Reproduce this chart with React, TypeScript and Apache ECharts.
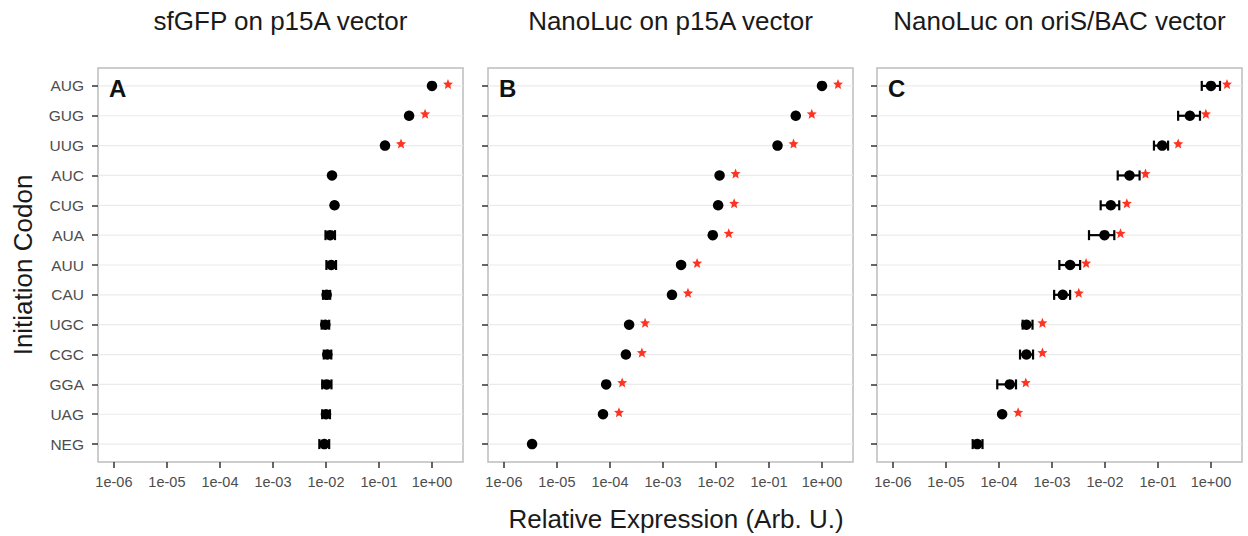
import React, { useEffect, useRef } from "react";
import * as echarts from "echarts";

// ---------- data ----------
const codons = ["AUG", "GUG", "UUG", "AUC", "CUG", "AUA", "AUU", "CAU", "UGC", "CGC", "GGA", "UAG", "NEG"];
const xTickExps = [-6, -5, -4, -3, -2, -1, 0];
const xTickLabels = ["1e-06", "1e-05", "1e-04", "1e-03", "1e-02", "1e-01", "1e+00"];

const panelTitles = ["sfGFP on p15A vector", "NanoLuc on p15A vector", "NanoLuc on oriS/BAC vector"];
const panelLetters = ["A", "B", "C"];

const sfgfpMean = [1.0, 0.37, 0.13, 0.013, 0.0145, 0.012, 0.0126, 0.0103, 0.0097, 0.0106, 0.0103, 0.01, 0.0093];
const sfgfpLow = [null, null, null, null, null, 0.0098, 0.0102, 0.0088, 0.0083, 0.0091, 0.0085, 0.0085, 0.0075];
const sfgfpHigh = [null, null, null, null, null, 0.0148, 0.0155, 0.012, 0.0115, 0.0126, 0.0127, 0.0119, 0.0115];
const sfgfpSig = [true, true, true, false, false, false, false, false, false, false, false, false, false];

const p15aMean = [1.0, 0.32, 0.145, 0.0117, 0.011, 0.0087, 0.0022, 0.00148, 0.00023, 0.0002, 0.000085, 0.000074, 0.0000034];
const p15aLow = [null, null, null, null, null, null, null, null, null, null, null, null, null];
const p15aHigh = [null, null, null, null, null, null, null, null, null, null, null, null, null];
const p15aSig = [true, true, true, true, true, true, true, true, true, true, true, true, false];

const bacMean = [1.0, 0.4, 0.12, 0.029, 0.0129, 0.0098, 0.0022, 0.0016, 0.00033, 0.00033, 0.00016, 0.000115, 0.000039];
const bacLow = [0.67, 0.24, 0.084, 0.0174, 0.0083, 0.005, 0.00138, 0.0011, 0.00028, 0.00025, 0.000093, null, 0.000032];
const bacHigh = [1.48, 0.62, 0.155, 0.045, 0.0186, 0.015, 0.0034, 0.0022, 0.00043, 0.00044, 0.00021, null, 0.000049];
const bacSig = [true, true, true, true, true, true, true, true, true, true, true, true, false];

// ---------- layout / style ----------
const FONT = "'Liberation Sans', Arial, Helvetica, sans-serif";
const GRID_LEFTS = [98, 488, 877];
const GRID_WIDTH = 365;
const GRID_TOP = 68;
const GRID_HEIGHT = 394;
const X_MIN = -6.3;
const X_MAX = 0.585;
const Y_MIN = -0.6;
const Y_MAX = 12.6;
const STAR_PATH =
  "path://M12,1.5 L14.9,8.6 L22.6,9.2 L16.7,14.2 L18.6,21.7 L12,17.6 L5.4,21.7 L7.3,14.2 L1.4,9.2 L9.1,8.6 Z";

const panelData = [
  { mean: sfgfpMean, lo: sfgfpLow, hi: sfgfpHigh, sig: sfgfpSig },
  { mean: p15aMean, lo: p15aLow, hi: p15aHigh, sig: p15aSig },
  { mean: bacMean, lo: bacLow, hi: bacHigh, sig: bacSig },
];

function buildOption() {
  const grids: any[] = [];
  const xAxes: any[] = [];
  const yAxes: any[] = [];
  const series: any[] = [];
  const graphics: any[] = [];
  const idx = codons.map((_, i) => i);

  panelData.forEach((p, k) => {
    grids.push({
      left: GRID_LEFTS[k],
      top: GRID_TOP,
      width: GRID_WIDTH,
      height: GRID_HEIGHT,
      show: true,
      borderColor: "#bdbdbd",
      borderWidth: 1.5,
      backgroundColor: "#ffffff",
    });
    xAxes.push({
      type: "value",
      gridIndex: k,
      position: "bottom",
      min: X_MIN,
      max: X_MAX,
      axisLine: { show: false, onZero: false },
      splitLine: { show: false },
      axisTick: { show: true, customValues: xTickExps, length: 6, lineStyle: { color: "#333", width: 1.5 } },
      axisLabel: {
        show: true,
        customValues: xTickExps,
        margin: 12,
        fontSize: 14.5,
        fontFamily: FONT,
        color: "#4d4d4d",
        formatter: (v: number) => xTickLabels[xTickExps.indexOf(Math.round(v))] ?? "",
      },
    });
    yAxes.push({
      type: "value",
      gridIndex: k,
      position: "left",
      inverse: true,
      min: Y_MIN,
      max: Y_MAX,
      axisLine: { show: false, onZero: false },
      splitLine: { show: false },
      axisTick: { show: true, customValues: idx, length: 6, lineStyle: { color: "#333", width: 1.5 } },
      axisLabel: {
        show: k === 0,
        customValues: idx,
        margin: 14,
        fontSize: 15.5,
        fontFamily: FONT,
        color: "#4d4d4d",
        formatter: (v: number) => codons[Math.round(v)] ?? "",
      },
    });

    // horizontal gridlines at each category
    series.push({
      type: "custom",
      xAxisIndex: k,
      yAxisIndex: k,
      silent: true,
      z: 1,
      data: idx.map((i) => [X_MIN, i]),
      encode: { x: 0, y: 1 },
      renderItem: (params: any, api: any) => {
        const cs = params.coordSys;
        const pt = api.coord([api.value(0), api.value(1)]);
        return {
          type: "line",
          shape: { x1: cs.x, y1: pt[1], x2: cs.x + cs.width, y2: pt[1] },
          style: { stroke: "#ebebeb", lineWidth: 1.2 },
        };
      },
    });

    // error bars
    const ebData: any[] = [];
    p.mean.forEach((_, i) => {
      const lo = p.lo[i];
      const hi = p.hi[i];
      if (lo != null && hi != null) ebData.push([Math.log10(lo), Math.log10(hi), i]);
    });
    series.push({
      type: "custom",
      xAxisIndex: k,
      yAxisIndex: k,
      silent: true,
      z: 3,
      data: ebData,
      encode: { x: [0, 1], y: 2 },
      renderItem: (params: any, api: any) => {
        const y = api.value(2);
        const a = api.coord([api.value(0), y]);
        const b = api.coord([api.value(1), y]);
        const st = { stroke: "#000", lineWidth: 2.2 };
        return {
          type: "group",
          children: [
            { type: "line", shape: { x1: a[0], y1: a[1], x2: b[0], y2: b[1] }, style: st },
            { type: "line", shape: { x1: a[0], y1: a[1] - 5, x2: a[0], y2: a[1] + 5 }, style: st },
            { type: "line", shape: { x1: b[0], y1: b[1] - 5, x2: b[0], y2: b[1] + 5 }, style: st },
          ],
        };
      },
    });

    // points
    series.push({
      type: "scatter",
      xAxisIndex: k,
      yAxisIndex: k,
      z: 4,
      symbol: "circle",
      symbolSize: 10.5,
      itemStyle: { color: "#000", opacity: 1 },
      data: p.mean.map((m, i) => [Math.log10(m), i]),
    });

    // significance stars
    series.push({
      type: "scatter",
      xAxisIndex: k,
      yAxisIndex: k,
      z: 4,
      symbol: STAR_PATH,
      symbolSize: 10,
      symbolOffset: [16, -2],
      itemStyle: { color: "#ff3322", opacity: 1 },
      data: p.mean.map((m, i) => [Math.log10(m), i]).filter((_, i) => p.sig[i]),
    });

    const cx = GRID_LEFTS[k] + GRID_WIDTH / 2;
    graphics.push({
      type: "text",
      x: cx,
      y: 21,
      style: {
        text: panelTitles[k],
        fontSize: 26,
        fontFamily: FONT,
        fill: "#1a1a1a",
        textAlign: "center",
        textVerticalAlign: "middle",
      },
    });
    graphics.push({
      type: "text",
      x: GRID_LEFTS[k] + 11,
      y: 88,
      z: 10,
      style: {
        text: panelLetters[k],
        fontSize: 24,
        fontWeight: "bold",
        fontFamily: FONT,
        fill: "#111",
        textAlign: "left",
        textVerticalAlign: "middle",
      },
    });
  });

  graphics.push({
    type: "text",
    x: 23,
    y: GRID_TOP + GRID_HEIGHT / 2,
    rotation: Math.PI / 2,
    style: {
      text: "Initiation Codon",
      fontSize: 26,
      fontFamily: FONT,
      fill: "#1a1a1a",
      textAlign: "center",
      textVerticalAlign: "middle",
    },
  });
  graphics.push({
    type: "text",
    x: 676,
    y: 519,
    style: {
      text: "Relative Expression (Arb. U.)",
      fontSize: 26,
      fontFamily: FONT,
      fill: "#1a1a1a",
      textAlign: "center",
      textVerticalAlign: "middle",
    },
  });

  return {
    animation: false,
    backgroundColor: "#ffffff",
    grid: grids,
    xAxis: xAxes,
    yAxis: yAxes,
    series,
    graphic: graphics,
  };
}

export default function App() {
  const ref = useRef<HTMLDivElement>(null);
  useEffect(() => {
    if (!ref.current) return;
    const chart = echarts.init(ref.current, undefined, { renderer: "svg" });
    chart.setOption(buildOption() as any);
    return () => chart.dispose();
  }, []);
  return (
    <div
      ref={ref}
      style={{ position: "absolute", left: 0, top: 0, width: 1248, height: 536, background: "#fff" }}
    />
  );
}
